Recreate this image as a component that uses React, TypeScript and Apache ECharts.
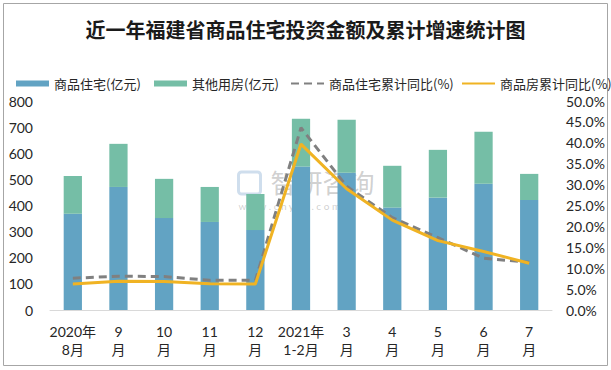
import React, { useEffect, useRef } from "react";
import * as echarts from "echarts";

const categories = ["2020年\n8月", "9\n月", "10\n月", "11\n月", "12\n月", "2021年\n1-2月", "3\n月", "4\n月", "5\n月", "6\n月", "7\n月"];
const residential = [368, 471, 352, 337, 306, 549, 525, 392, 430, 483, 421];
const otherUse = [145, 165, 150, 134, 138, 183, 203, 160, 183, 199, 100];
const residentialYoY = [7.6, 8.1, 8.0, 7.1, 7.1, 43.6, 29.6, 22.1, 17.3, 12.4, 11.4];
const commercialYoY = [6.2, 6.9, 6.8, 6.3, 6.2, 39.7, 29.0, 21.5, 16.6, 14.0, 11.2];

const FONT = "Lato, 'Noto Sans CJK SC', sans-serif";
const TXT = "#262626";

export default function App() {
  const ref = useRef<HTMLDivElement>(null);
  useEffect(() => {
    document.body.style.margin = "0";
    const chart = echarts.init(ref.current!, null, { renderer: "svg" });
    const legendBase = {
      top: 72,
      itemWidth: 33,
      itemHeight: 6,
      textStyle: { fontSize: 13, color: TXT, fontFamily: "'Noto Sans CJK SC', sans-serif" },
      selectedMode: false as const,
    };
    chart.setOption({
      animation: false,
      backgroundColor: "#fff",
      title: {
        text: "近一年福建省商品住宅投资金额及累计增速统计图",
        left: "center",
        top: 14,
        textStyle: { fontSize: 20, fontWeight: "bold", color: "#1a1a1a", fontFamily: "'Noto Sans CJK SC', serif" },
      },
      legend: [
        { ...legendBase, left: 11, data: [{ name: "商品住宅(亿元)", icon: "rect" }] },
        { ...legendBase, left: 149, data: [{ name: "其他用房(亿元)", icon: "rect" }] },
        { ...legendBase, left: 285, data: [{ name: "商品住宅累计同比(%)", itemStyle: { opacity: 0 } }] },
        { ...legendBase, left: 456, data: [{ name: "商品房累计同比(%)", itemStyle: { opacity: 0 } }] },
      ],
      grid: { left: 50, right: 59, top: 101, bottom: 60 },
      xAxis: {
        type: "category",
        data: categories,
        axisLine: { lineStyle: { color: "#d9d9d9" } },
        axisTick: { show: false },
        axisLabel: { color: TXT, fontSize: 14, lineHeight: 18, fontFamily: FONT, margin: 12, interval: 0 },
      },
      yAxis: [
        {
          type: "value",
          min: 0,
          max: 800,
          interval: 100,
          splitLine: { show: false },
          axisLine: { show: false },
          axisTick: { show: false },
          axisLabel: { color: TXT, fontSize: 14, fontFamily: FONT, margin: 17 },
        },
        {
          type: "value",
          min: 0,
          max: 50,
          interval: 5,
          splitLine: { show: false },
          axisLine: { show: false },
          axisTick: { show: false },
          axisLabel: {
            color: TXT,
            fontSize: 14,
            fontFamily: FONT,
            margin: 14,
            formatter: (v: number) => v.toFixed(1) + "%",
          },
        },
      ],
      series: [
        {
          name: "商品住宅(亿元)",
          type: "bar",
          stack: "total",
          barWidth: "40%",
          itemStyle: { color: "#62A3C3" },
          data: residential,
        },
        {
          name: "其他用房(亿元)",
          type: "bar",
          stack: "total",
          barWidth: "40%",
          itemStyle: { color: "#75BEA6" },
          data: otherUse,
        },
        {
          name: "商品住宅累计同比(%)",
          type: "line",
          yAxisIndex: 1,
          symbol: "none",
          lineStyle: { color: "#808080", width: 3, type: [8, 5] },
          itemStyle: { color: "#808080" },
          data: residentialYoY,
          z: 3,
        },
        {
          name: "商品房累计同比(%)",
          type: "line",
          yAxisIndex: 1,
          symbol: "none",
          lineStyle: { color: "#F0B323", width: 3 },
          itemStyle: { color: "#F0B323" },
          data: commercialYoY,
          z: 4,
        },
      ],
      graphic: [
        {
          type: "rect",
          shape: { x: 3.5, y: 3.5, width: 604, height: 362 },
          style: { fill: "none", stroke: "#a6a6a6", lineWidth: 1 },
          silent: true,
        },
        {
          type: "group",
          left: 236,
          top: 168,
          z: 100,
          silent: true,
          children: [
            { type: "rect", shape: { x: 0, y: 2, width: 22, height: 22, r: 3 }, style: { fill: "none", stroke: "rgba(160,190,220,0.5)", lineWidth: 3 } },
            { type: "text", x: 32, y: -2, style: { text: "智研咨询", fontSize: 26, fill: "rgba(150,150,150,0.45)", fontFamily: "'Noto Sans CJK SC', sans-serif" } },
            { type: "text", x: 0, y: 31, style: { text: "w w w . c h y x x . c o m", fontSize: 10, fill: "rgba(150,150,150,0.45)", fontFamily: FONT } },
          ],
        },
      ],
    });
    return () => chart.dispose();
  }, []);
  return <div ref={ref} style={{ width: 611, height: 370 }} />;
}
